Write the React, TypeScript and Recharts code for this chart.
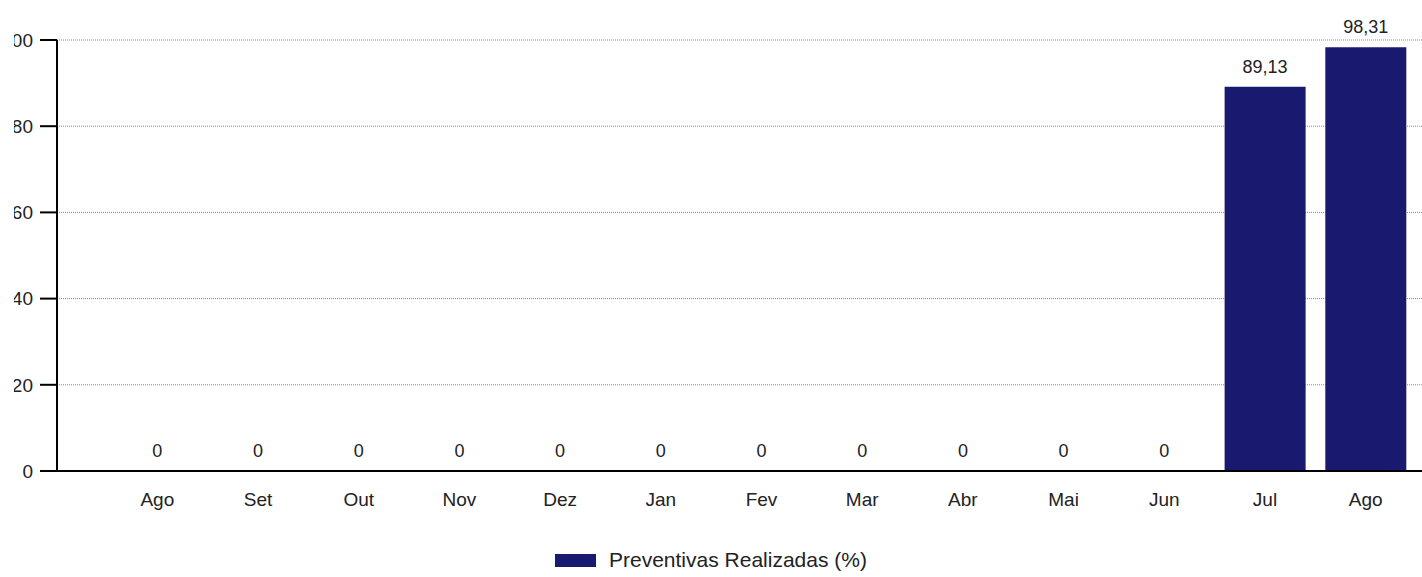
import React from 'react';
import { ComposedChart, Bar, Line, XAxis, YAxis, CartesianGrid, Legend, LabelList } from 'recharts';

const months = ['Ago', 'Set', 'Out', 'Nov', 'Dez', 'Jan', 'Fev', 'Mar', 'Abr', 'Mai', 'Jun', 'Jul', 'Ago'];
const realizadas = [0, 0, 0, 0, 0, 0, 0, 0, 0, 0, 0, 89.13, 98.31];
const yTicks = [0, 20, 40, 60, 80, 100];

const data = months.map((m, i) => ({ key: i, mes: m, valor: realizadas[i] }));

const FONT = '"Liberation Sans", Arial, sans-serif';

const fmt = (v: number) => (v === 0 ? '0' : v.toFixed(2).replace('.', ','));

function LegendBox() {
  return (
    <div style={{ display: 'flex', alignItems: 'center', marginLeft: 555, height: 20, fontFamily: FONT, fontSize: 21, color: '#222' }}>
      <span style={{ display: 'inline-block', width: 41, height: 13, background: '#191970', marginRight: 13 }} />
      <span>Preventivas Realizadas (%)</span>
    </div>
  );
}

function App() {
  return (
    <div style={{ position: 'absolute', left: 14, top: 0, width: 1408, height: 577, overflow: 'hidden', background: '#fff' }}>
      <div style={{ marginLeft: -14 }}>
        <ComposedChart
          width={1500}
          height={577}
          data={data}
          margin={{ top: 40, right: 34, bottom: 7, left: 0 }}
          barCategoryGap={10}
        >
          <CartesianGrid vertical={false} stroke="#8a8a8a" strokeDasharray="1 1" />
          <XAxis
            dataKey="key"
            tickFormatter={(i) => months[i]}
            tickLine={false}
            axisLine={{ stroke: '#000', strokeWidth: 2 }}
            tickMargin={16}
            height={79}
            interval={0}
            padding={{ left: 50, right: 50 }}
            tick={{ fill: '#222', fontSize: 19, fontFamily: FONT }}
          />
          <YAxis
            domain={[0, 100]}
            ticks={yTicks}
            width={57}
            tickSize={17}
            tickMargin={7}
            tickLine={{ stroke: '#000', strokeWidth: 2 }}
            axisLine={{ stroke: '#000', strokeWidth: 2 }}
            tick={{ fill: '#222', fontSize: 19, fontFamily: FONT }}
          />
          <Legend verticalAlign="bottom" content={() => <LegendBox />} />
          <Bar dataKey="valor" fill="#191970" isAnimationActive={false} />
          <Line dataKey="valor" stroke="none" dot={false} activeDot={false} isAnimationActive={false}>
            <LabelList
              dataKey="valor"
              position="top"
              offset={14}
              formatter={(v: number) => fmt(v)}
              style={{ fill: '#222', fontSize: 18, fontFamily: FONT }}
            />
          </Line>
        </ComposedChart>
      </div>
    </div>
  );
}

export default App;
